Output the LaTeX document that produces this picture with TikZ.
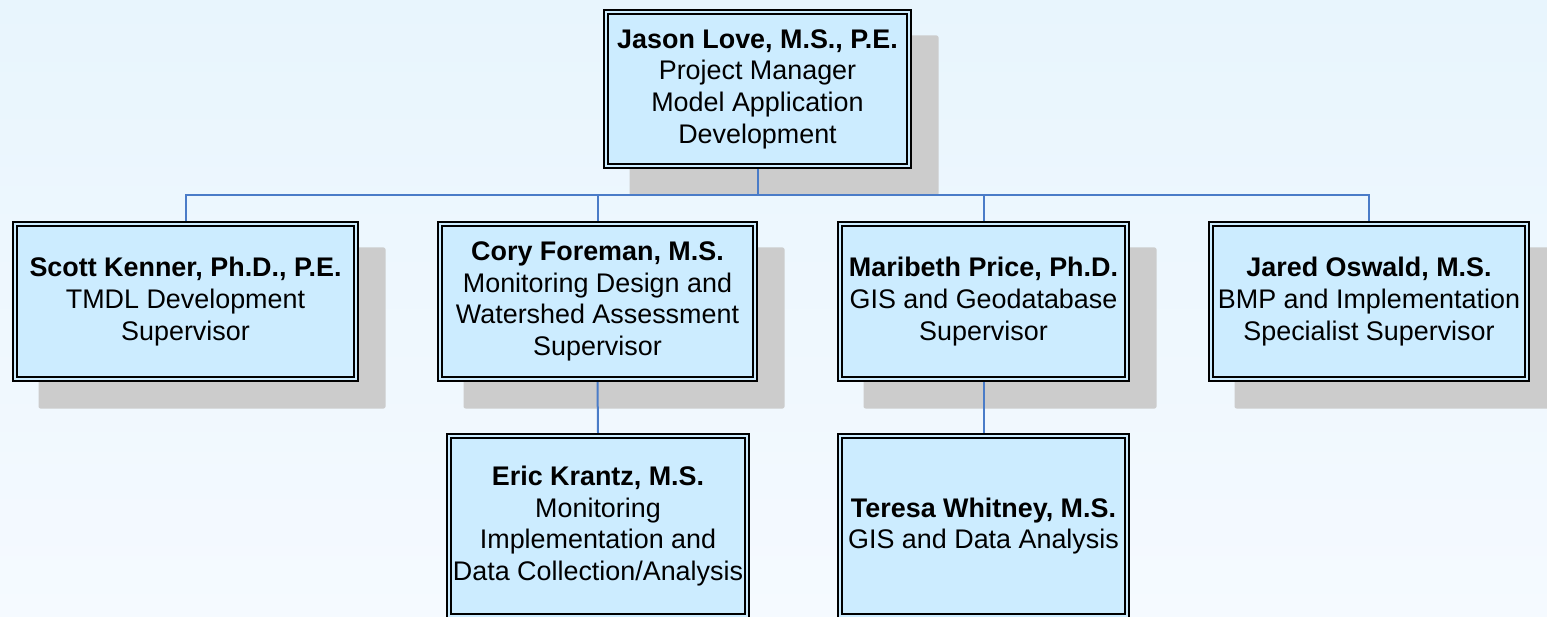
\documentclass[tikz,border=0pt]{standalone}
\usepackage{fontspec}
\setmainfont{Liberation Sans}
\usetikzlibrary{positioning}
\definecolor{boxfill}{HTML}{CCECFF}
\definecolor{shadowc}{HTML}{CCCCCC}
\definecolor{connc}{HTML}{4A7CC8}
\definecolor{bgtop}{HTML}{E8F5FD}
\definecolor{bgbot}{HTML}{F5FAFF}
\pgfdeclarelayer{bg}
\pgfdeclarelayer{shad}
\pgfdeclarelayer{conn}
\pgfsetlayers{bg,shad,conn,main}
\tikzset{
  orgbox/.style={draw=black, line width=1.8pt, double=boxfill, double distance=2.2pt,
    fill=boxfill, inner sep=0pt, outer sep=2.9pt, align=center,
    font=\fontsize{26.9}{31.7}\selectfont},
  conline/.style={draw=connc, line width=2pt},
  shadowbox/.style={fill=shadowc, rounded corners=2pt}
}
\begin{document}
\begin{tikzpicture}[x=1pt,y=-1pt]
\useasboundingbox (0,0) rectangle (1547,617);
\clip (0,0) rectangle (1547,617);
\begin{pgfonlayer}{bg}
  \shade[top color=bgtop, bottom color=bgbot] (0,0) rectangle (1547,617);
\end{pgfonlayer}

\node[orgbox, minimum width=303.2pt, minimum height=154.2pt] (love) at (757.5,89)
  {\textbf{Jason Love, M.S., P.E.}\\Project Manager\\Model Application\\Development};
\node[orgbox, minimum width=341.2pt, minimum height=155.2pt] (scott) at (185.5,301.5)
  {\textbf{Scott Kenner, Ph.D., P.E.}\\TMDL Development\\Supervisor};
\node[orgbox, minimum width=315.2pt, minimum height=155.2pt] (cory) at (597.5,301.5)
  {\textbf{Cory Foreman, M.S.}\\Monitoring Design and\\Watershed Assessment\\Supervisor};
\node[orgbox, minimum width=287.2pt, minimum height=155.2pt] (mari) at (983.5,301.5)
  {\textbf{Maribeth Price, Ph.D.}\\GIS and Geodatabase\\Supervisor};
\node[orgbox, minimum width=316.2pt, minimum height=155.2pt] (jared) at (1369,301.5)
  {\textbf{Jared Oswald, M.S.}\\BMP and Implementation\\Specialist Supervisor};
\node[orgbox, minimum width=298.2pt, minimum height=180.2pt] (eric) at (598,526)
  {\textbf{Eric Krantz, M.S.}\\Monitoring\\Implementation and\\Data Collection/Analysis};
\node[orgbox, minimum width=287.2pt, minimum height=180.2pt] (teresa) at (983.5,526)
  {\textbf{Teresa Whitney, M.S.}\\GIS and Data Analysis};

\begin{pgfonlayer}{shad}
  \foreach \n in {love,scott,cory,mari,jared}
    \fill[shadowbox] ([shift={(26.5,26.5)}]\n.north west) rectangle ([shift={(26.5,26.5)}]\n.south east);
\end{pgfonlayer}

\coordinate (bus) at (757.5,195);
\begin{pgfonlayer}{conn}
  \draw[conline] (love.south) -- (love.south |- bus);
  \draw[conline] (scott.north) -- (scott.north |- bus) -- (jared.north |- bus) -- (jared.north);
  \draw[conline] (cory.north) -- (cory.north |- bus);
  \draw[conline] (mari.north) -- (mari.north |- bus);
  \draw[conline] (cory.south) -- (eric.north);
  \draw[conline] (mari.south) -- (teresa.north);
\end{pgfonlayer}
\end{tikzpicture}
\end{document}
